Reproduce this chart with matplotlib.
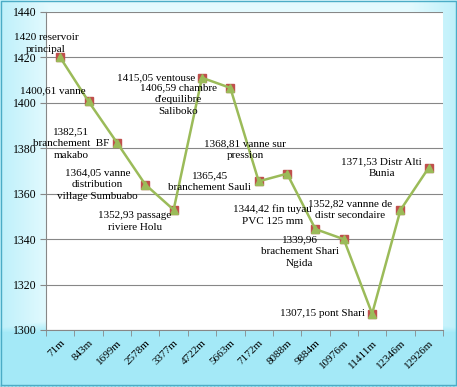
import numpy as np
import matplotlib
matplotlib.use("Agg")
import matplotlib.pyplot as plt

# data
distances = ["71m", "843m", "1699m", "2578m", "3377m", "4722m", "5663m",
             "7172m", "8088m", "9884m", "10976m", "11411m", "12346m", "12926m"]
altitudes = [1420, 1400.61, 1382.51, 1364.05, 1352.93, 1411.05, 1406.59,
             1365.45, 1368.81, 1344.42, 1339.96, 1307.15, 1352.82, 1371.53]
point_labels = [
    "1420 reservoir\nprincipal",
    "1400,61 vanne",
    "1382,51\nbranchement  BF\nmakabo",
    "1364,05 vanne\ndistribution\nvillage Sumbuabo",
    "1352,93 passage\nriviere Holu",
    "1415,05 ventouse",
    "1406,59 chambre\nd'equilibre\nSaliboko",
    "1365,45\nbranchement Sauli",
    "1368,81 vanne sur\npression",
    "1344,42 fin tuyau\nPVC 125 mm",
    "1339,96\nbrachement Shari\nNgida",
    "1307,15 pont Shari",
    "1352,82 vannne de\ndistr secondaire",
    "1371,53 Distr Alti\nBunia",
]
# label offsets from the point, in pixels
label_offsets = [(-14, 14), (-36, 11), (-46, -1), (-48, 0), (-39, -12),
                 (-46, 0), (-52, -12), (-49, 0), (-42, 24), (-43, 14),
                 (-44, -12), (-50, 0), (-50, 0), (-47, 0)]

fig = plt.figure(figsize=(4.57, 3.87), dpi=100)

# background gradient (white centre, cyan edges)
bg = fig.add_axes([0, 0, 1, 1], zorder=-5)
h, w = 387, 457
yy, xx = np.mgrid[0:h, 0:w]
tx = np.clip(1 - np.minimum(xx, w - xx) / 60.0, 0, 1) * 0.6
ty_top = np.clip(1 - yy / 30.0, 0, 1) * 0.15
ty_bot = np.clip((yy - 318) / 14.0, 0, 1)
t = np.maximum(np.maximum(tx, ty_top), ty_bot * 0.92)
white = np.array([0.93, 0.99, 1.0])
cyan = np.array([0.62, 0.91, 0.97])
img = white[None, None, :] * (1 - t[..., None]) + cyan[None, None, :] * t[..., None]
bg.imshow(img, aspect="auto", extent=[0, 1, 0, 1])
bg.set_xlim(0, 1)
bg.set_ylim(0, 1)
bg.plot([0.002, 0.998, 0.998, 0.002, 0.002], [0.004, 0.004, 0.997, 0.997, 0.004],
        color="#4bacc6", lw=1)
bg.plot([0.0, 1.0], [0.001, 0.001], color="#555555", lw=1, ls=":")
bg.axis("off")

ax = fig.add_axes([0.1007, 0.1473, 0.8687, 0.8217])
ax.set_facecolor("white")
x = np.arange(len(distances))

ax.plot(x, altitudes, linestyle="none", marker="s", markersize=6,
        color="#c0504d", zorder=3)
ax.plot(x, altitudes, color="#9bbb59", lw=1.8, marker="^", markersize=5.5,
        zorder=4)

for i, (lab, off) in enumerate(zip(point_labels, label_offsets)):
    ax.annotate(lab, xy=(i, altitudes[i]), xytext=off, textcoords="offset pixels",
                ha="center", va="center", fontsize=8, family="Liberation Serif",
                linespacing=1.4, zorder=5)

ax.set_xlim(-0.5, len(distances) - 0.5)
ax.set_ylim(1300, 1440)
ax.set_yticks(np.arange(1300, 1441, 20))
ax.set_xticks(x)
ax.set_xticklabels(distances, rotation=45, ha="right", va="top",
                   rotation_mode="anchor", fontsize=8, family="Liberation Serif")
ax.tick_params(axis="x", length=0, pad=6)
ax.set_xticks(np.arange(-0.5, len(distances), 1), minor=True)
ax.tick_params(axis="x", which="minor", length=4, color="#878787")
for lab in ax.get_yticklabels():
    lab.set_family("Liberation Serif")
    lab.set_fontsize(8.5)
ax.tick_params(axis="y", length=4, color="#878787", pad=3)
ax.grid(axis="y", color="#878787", lw=0.8)
ax.set_axisbelow(True)
for s in ["top", "right"]:
    ax.spines[s].set_visible(False)
ax.spines["left"].set_color("#878787")
ax.spines["bottom"].set_color("#878787")

plt.savefig("out.png", dpi=100)
